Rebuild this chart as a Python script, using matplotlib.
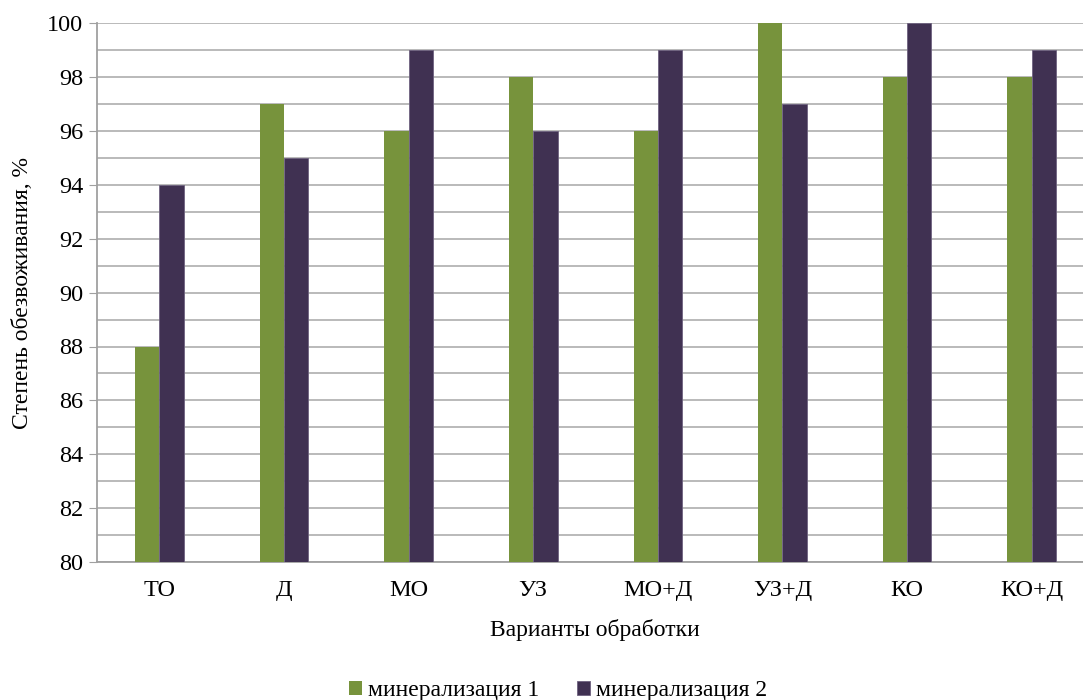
import numpy as np
import matplotlib
matplotlib.use("Agg")
from matplotlib import pyplot as plt

categories = ["ТО", "Д", "МО", "УЗ", "МО+Д", "УЗ+Д", "КО", "КО+Д"]
series1 = [88, 97, 96, 98, 96, 100, 98, 98]
series2 = [94, 95, 99, 96, 99, 97, 100, 99]
names = ["минерализация 1", "минерализация 2"]
colors = ["#77933C", "#403152"]

plt.rcParams['font.family'] = ['Liberation Serif', 'DejaVu Serif']

fig = plt.figure(figsize=(10.83, 7.0), dpi=100)
ax = fig.add_axes([0.0896, 0.197, 0.9206, 0.770])

x = np.arange(len(categories))
w = 0.195
ax.bar(x - w / 2, series1, w, color=colors[0], label=names[0], zorder=3)
ax.bar(x + w / 2, series2, w, color=colors[1], label=names[1], zorder=3,
       edgecolor="#6E6280", linewidth=0.6)

ax.set_xlim(-0.5, len(categories) - 0.5)
ax.set_ylim(80, 100)
ax.set_yticks(np.arange(80, 101, 2))
ax.set_yticks(np.arange(81, 100, 2), minor=True)
ax.grid(axis='y', which='both', color='#B4B4B4', linewidth=1.3, zorder=0)
ax.tick_params(axis='y', which='major', length=6, color='#A0A0A0', labelsize=17.5, pad=4)
ax.tick_params(axis='y', which='minor', length=0)
ax.tick_params(axis='x', length=0, labelsize=17.5, pad=13)
ax.set_xticks(x)
ax.set_xticklabels(categories)

for s in ['top', 'right']:
    ax.spines[s].set_visible(False)
for s in ['left', 'bottom']:
    ax.spines[s].set_color('#A0A0A0')
    ax.spines[s].set_linewidth(1.3)

ax.set_xlabel("Варианты обработки", fontsize=17)
ax.set_ylabel("Степень обезвоживания, %", fontsize=17, labelpad=10)
ax.xaxis.set_label_coords((595 - 1083 * 0.0896) / (1083 * 0.9206), -0.105)

fig.legend(loc='center', bbox_to_anchor=(0.515, 0.013), ncol=2, frameon=False,
           fontsize=17, handlelength=0.55, handleheight=0.55, handletextpad=0.25,
           columnspacing=1.6)

fig.savefig("out.png", dpi=100)
